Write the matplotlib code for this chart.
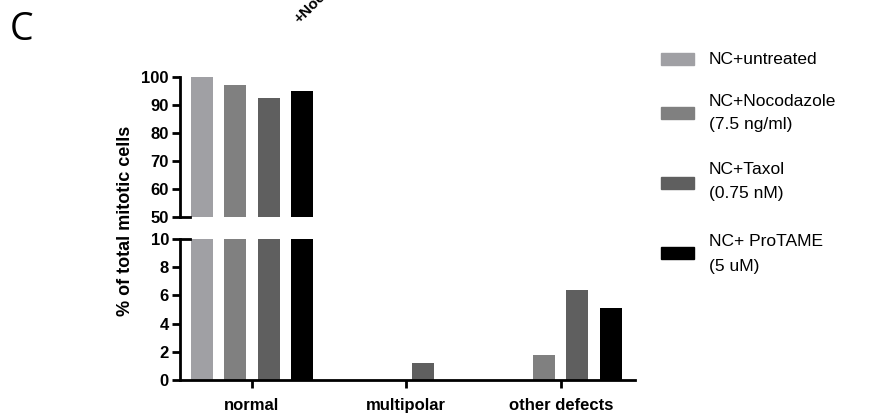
import matplotlib.pyplot as plt
from matplotlib.patches import Rectangle
import numpy as np

plt.rcParams['font.family'] = ['Liberation Sans', 'DejaVu Sans']

categories = ['normal', 'multipolar', 'other defects']
series = ['NC+untreated', 'NC+Nocodazole\n(7.5 ng/ml)', 'NC+Taxol\n(0.75 nM)', 'NC+ ProTAME\n(5 uM)']
colors = ['#a0a0a4', '#808080', '#5f5f5f', '#000000']
values = [
    [100.0, 0.0, 0.0],
    [97.0, 0.0, 1.8],
    [92.4, 1.2, 6.4],
    [94.9, 0.0, 5.1],
]

fig = plt.figure(figsize=(8.88, 4.17), dpi=100)
ax_top = fig.add_axes([0.2027, 0.4796, 0.512, 0.3357])
ax_bot = fig.add_axes([0.2027, 0.0887, 0.512, 0.3382])

x = np.arange(len(categories))
step = 0.217
width = 0.142
for i, (name, vals, c) in enumerate(zip(series, values, colors)):
    pos = x + (i - 1.5) * step
    ax_top.bar(pos, vals, width, color=c, bottom=0)
    ax_bot.bar(pos, vals, width, color=c)

for ax in (ax_top, ax_bot):
    ax.set_xlim(-0.466, 2.479)
    for s in ['top', 'right']:
        ax.spines[s].set_visible(False)
    ax.spines['left'].set_linewidth(2)
    ax.tick_params(axis='y', width=2, length=6, labelsize=12, pad=2)

ax_top.set_ylim(50, 100)
ax_top.set_yticks([50, 60, 70, 80, 90, 100])
ax_top.spines['bottom'].set_visible(False)
ax_top.set_xticks([])
ax_top.plot([-0.466, -0.40], [50, 50], color='black', lw=2, clip_on=False)

ax_bot.set_ylim(0, 10)
ax_bot.set_yticks([0, 2, 4, 6, 8, 10])
ax_bot.spines['bottom'].set_linewidth(2)
ax_bot.set_xticks(x)
ax_bot.set_xticklabels(categories, fontsize=12)
ax_bot.tick_params(axis='x', width=2, length=6, pad=7)
ax_bot.plot([-0.466, -0.40], [10, 10], color='black', lw=2, clip_on=False)

for ax in (ax_top, ax_bot):
    for lbl in ax.get_yticklabels() + ax.get_xticklabels():
        lbl.set_fontweight('bold')

fig.text(125 / 888, 1 - 221 / 417, '% of total mitotic cells', rotation=90,
         ha='center', va='center', fontsize=13, fontweight='bold')

# panel letter and clipped header text
fig.text(10 / 888, 1 - 30 / 417, 'C', fontsize=27, ha='left', va='center',
         family=['Open Sans', 'DejaVu Sans'])
fig.text(292 / 888, 1 - 26 / 417, '+Nocodazole', rotation=45, fontsize=11,
         fontweight='bold', ha='left', va='bottom')

# legend
sq_y = [59, 113, 183, 253]
txt_y = [59, 113, 182, 254]
for name, c, sy, ty in zip(series, colors, sq_y, txt_y):
    fig.patches.append(Rectangle((661 / 888, 1 - (sy + 6) / 417), 33 / 888, 12 / 417,
                                 transform=fig.transFigure, color=c))
    fig.text(709 / 888, 1 - ty / 417, name, fontsize=12.5, ha='left', va='center',
             linespacing=1.75)

fig.savefig('out.png', dpi=100)
